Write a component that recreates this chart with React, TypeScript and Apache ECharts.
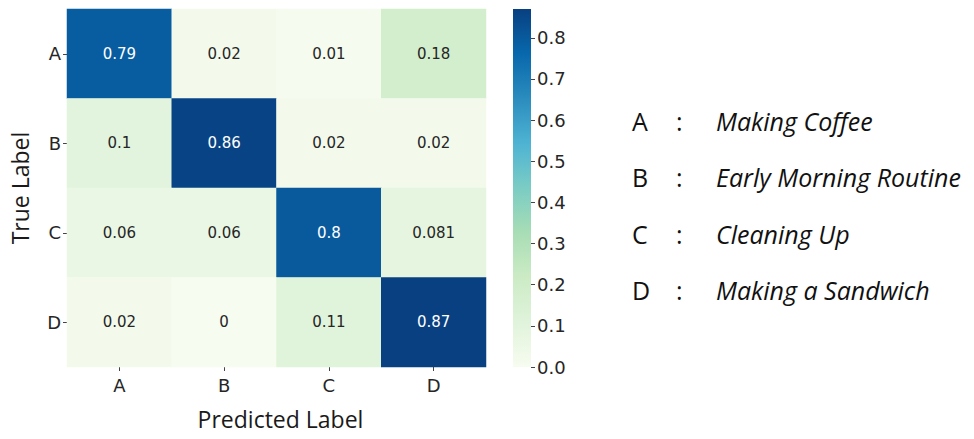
import React, { useEffect, useRef } from "react";
import * as echarts from "echarts";

const predictedLabels = ["A", "B", "C", "D"];
const trueLabels = ["A", "B", "C", "D"];
// rows = true label, columns = predicted label
const rowA = [0.79, 0.02, 0.01, 0.18];
const rowB = [0.1, 0.86, 0.02, 0.02];
const rowC = [0.06, 0.06, 0.8, 0.081];
const rowD = [0.02, 0, 0.11, 0.87];
const matrix = [rowA, rowB, rowC, rowD];
const colorbarTicks = [0, 0.1, 0.2, 0.3, 0.4, 0.5, 0.6, 0.7, 0.8];
const colorMax = 0.87;
const legendKeys = ["A", "B", "C", "D"];
const legendNames = ["Making Coffee", "Early Morning Routine", "Cleaning Up", "Making a Sandwich"];

const GnBu = ["#f7fcf0", "#e0f3db", "#ccebc5", "#a8ddb5", "#7bccc4", "#4eb3d3", "#2b8cbe", "#0868ac", "#084081"];
const axisFont = "DejaVu Sans";
const titleFont = "Open Sans";

export default function App() {
  const ref = useRef<HTMLDivElement>(null);
  useEffect(() => {
    if (!ref.current) return;
    const chart = echarts.init(ref.current, undefined, { renderer: "svg" });
    const data: any[] = [];
    matrix.forEach((row, yi) =>
      row.forEach((v, xi) => {
        data.push({
          value: [xi, yi, v],
          label: { color: v > 0.5 ? "#ffffff" : "#262626" },
        });
      })
    );
    const legendGraphics: any[] = [];
    const legendY = [123, 179, 236, 292];
    legendKeys.forEach((k, i) => {
      const common = { fontSize: 25, fill: "#111", fontFamily: titleFont };
      legendGraphics.push({ type: "text", left: 632, top: legendY[i] - 15, style: { ...common, text: k } });
      legendGraphics.push({ type: "text", left: 676, top: legendY[i] - 15, style: { ...common, text: ":" } });
      legendGraphics.push({
        type: "text",
        left: 716,
        top: legendY[i] - 15,
        style: { ...common, text: legendNames[i], fontStyle: "italic" },
      });
    });
    chart.setOption({
      animation: false,
      backgroundColor: "#ffffff",
      grid: [
        { left: 67, top: 9, width: 419, height: 358 },
        { left: 513, top: 9, width: 18, height: 358 },
      ],
      xAxis: [
        {
          type: "category",
          gridIndex: 0,
          data: predictedLabels,
          name: "Predicted Label",
          nameLocation: "middle",
          nameGap: 40,
          nameTextStyle: { fontSize: 23, fontFamily: titleFont, color: "#1a1a1a", padding: [0, 0, 0, 8] },
          axisLine: { show: false },
          axisTick: { show: true, alignWithLabel: true, length: 4, lineStyle: { color: "#444" } },
          axisLabel: { fontSize: 18, fontFamily: axisFont, color: "#262626", margin: 9 },
          splitLine: { show: false },
        },
        {
          type: "category",
          gridIndex: 1,
          data: ["cb"],
          show: false,
        },
      ],
      yAxis: [
        {
          type: "category",
          gridIndex: 0,
          data: trueLabels,
          inverse: true,
          name: "True Label",
          nameLocation: "middle",
          nameGap: 36,
          nameTextStyle: { fontSize: 23, fontFamily: titleFont, color: "#1a1a1a" },
          axisLine: { show: false },
          axisTick: { show: true, alignWithLabel: true, length: 4, lineStyle: { color: "#444" } },
          axisLabel: { fontSize: 18, fontFamily: axisFont, color: "#262626", margin: 6 },
          splitLine: { show: false },
        },
        {
          type: "value",
          gridIndex: 1,
          position: "right",
          min: 0,
          max: colorMax,
          axisLine: { show: false },
          splitLine: { show: false },
          axisTick: { show: true, length: 4, customValues: colorbarTicks, lineStyle: { color: "#444" } },
          axisLabel: {
            customValues: colorbarTicks,
            formatter: (v: number) => v.toFixed(1),
            fontSize: 18,
            fontFamily: axisFont,
            color: "#262626",
            margin: 6,
          },
        },
      ],
      visualMap: {
        show: false,
        min: 0,
        max: colorMax,
        seriesIndex: 0,
        dimension: 2,
        inRange: { color: GnBu },
      },
      series: [
        {
          type: "heatmap",
          xAxisIndex: 0,
          yAxisIndex: 0,
          data,
          label: {
            show: true,
            fontSize: 15,
            fontFamily: axisFont,
            formatter: (p: any) => String(p.value[2]),
          },
          itemStyle: { borderWidth: 0 },
        },
        {
          type: "bar",
          xAxisIndex: 1,
          yAxisIndex: 1,
          data: [colorMax],
          barWidth: "100%",
          itemStyle: {
            color: new echarts.graphic.LinearGradient(
              0,
              1,
              0,
              0,
              GnBu.map((c, i) => ({ offset: i / (GnBu.length - 1), color: c }))
            ),
          },
        },
      ],
      graphic: legendGraphics,
    });
    return () => chart.dispose();
  }, []);
  return (
    <div
      ref={ref}
      style={{ position: "absolute", left: 0, top: 0, width: 974, height: 439 }}
    />
  );
}
